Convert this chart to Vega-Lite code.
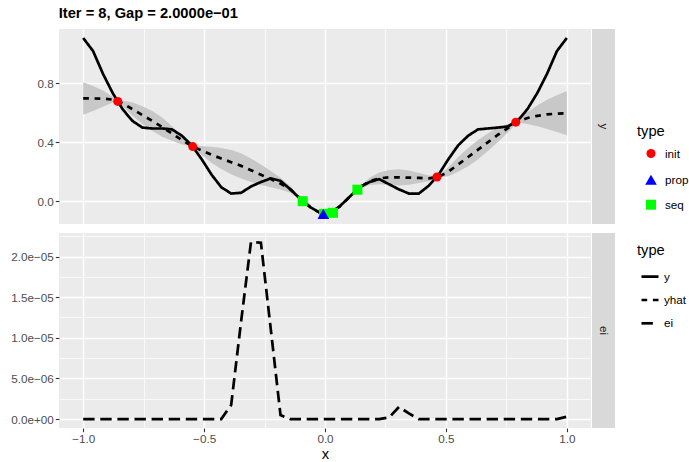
{
  "$schema": "https://vega.github.io/schema/vega-lite/v6.json",
  "background": "white",
  "padding": {"left": 10, "top": 6, "right": 5, "bottom": 2},
  "title": {"text": "Iter = 8, Gap = 2.0000e−01", "anchor": "start", "fontSize": 14.7, "fontWeight": "bold", "font": "Liberation Sans", "color": "#000000", "offset": 8, "dx": 48},
  "datasets": {
    "curve": [
      {"x": -1.000, "y": 1.109, "yhat": 0.698, "lo": 0.588, "hi": 0.808},
      {"x": -0.959, "y": 1.020, "yhat": 0.698, "lo": 0.613, "hi": 0.783},
      {"x": -0.918, "y": 0.865, "yhat": 0.697, "lo": 0.642, "hi": 0.752},
      {"x": -0.878, "y": 0.735, "yhat": 0.690, "lo": 0.670, "hi": 0.710},
      {"x": -0.837, "y": 0.625, "yhat": 0.665, "lo": 0.645, "hi": 0.685},
      {"x": -0.796, "y": 0.545, "yhat": 0.625, "lo": 0.580, "hi": 0.670},
      {"x": -0.755, "y": 0.500, "yhat": 0.585, "lo": 0.525, "hi": 0.645},
      {"x": -0.714, "y": 0.494, "yhat": 0.545, "lo": 0.477, "hi": 0.613},
      {"x": -0.673, "y": 0.494, "yhat": 0.503, "lo": 0.438, "hi": 0.568},
      {"x": -0.633, "y": 0.488, "yhat": 0.460, "lo": 0.410, "hi": 0.510},
      {"x": -0.592, "y": 0.445, "yhat": 0.415, "lo": 0.385, "hi": 0.445},
      {"x": -0.551, "y": 0.380, "yhat": 0.375, "lo": 0.372, "hi": 0.378},
      {"x": -0.510, "y": 0.285, "yhat": 0.345, "lo": 0.315, "hi": 0.375},
      {"x": -0.469, "y": 0.180, "yhat": 0.315, "lo": 0.260, "hi": 0.370},
      {"x": -0.429, "y": 0.095, "yhat": 0.290, "lo": 0.218, "hi": 0.362},
      {"x": -0.388, "y": 0.052, "yhat": 0.265, "lo": 0.183, "hi": 0.347},
      {"x": -0.347, "y": 0.057, "yhat": 0.240, "lo": 0.155, "hi": 0.325},
      {"x": -0.306, "y": 0.100, "yhat": 0.210, "lo": 0.130, "hi": 0.290},
      {"x": -0.265, "y": 0.130, "yhat": 0.180, "lo": 0.110, "hi": 0.250},
      {"x": -0.224, "y": 0.155, "yhat": 0.150, "lo": 0.095, "hi": 0.205},
      {"x": -0.184, "y": 0.138, "yhat": 0.120, "lo": 0.080, "hi": 0.160},
      {"x": -0.143, "y": 0.080, "yhat": 0.080, "lo": 0.058, "hi": 0.102},
      {"x": -0.102, "y": 0.015, "yhat": 0.018, "lo": 0.013, "hi": 0.023},
      {"x": -0.061, "y": -0.040, "yhat": -0.040, "lo": -0.046, "hi": -0.034},
      {"x": -0.020, "y": -0.080, "yhat": -0.080, "lo": -0.082, "hi": -0.078},
      {"x": 0.020, "y": -0.083, "yhat": -0.083, "lo": -0.085, "hi": -0.081},
      {"x": 0.061, "y": -0.035, "yhat": -0.035, "lo": -0.041, "hi": -0.029},
      {"x": 0.102, "y": 0.030, "yhat": 0.030, "lo": 0.020, "hi": 0.040},
      {"x": 0.143, "y": 0.095, "yhat": 0.092, "lo": 0.087, "hi": 0.097},
      {"x": 0.184, "y": 0.130, "yhat": 0.135, "lo": 0.110, "hi": 0.160},
      {"x": 0.224, "y": 0.150, "yhat": 0.155, "lo": 0.115, "hi": 0.195},
      {"x": 0.265, "y": 0.115, "yhat": 0.162, "lo": 0.112, "hi": 0.212},
      {"x": 0.306, "y": 0.080, "yhat": 0.162, "lo": 0.107, "hi": 0.217},
      {"x": 0.347, "y": 0.052, "yhat": 0.160, "lo": 0.112, "hi": 0.208},
      {"x": 0.388, "y": 0.052, "yhat": 0.158, "lo": 0.123, "hi": 0.193},
      {"x": 0.429, "y": 0.105, "yhat": 0.155, "lo": 0.135, "hi": 0.175},
      {"x": 0.469, "y": 0.178, "yhat": 0.165, "lo": 0.161, "hi": 0.169},
      {"x": 0.510, "y": 0.285, "yhat": 0.200, "lo": 0.170, "hi": 0.230},
      {"x": 0.551, "y": 0.380, "yhat": 0.250, "lo": 0.200, "hi": 0.300},
      {"x": 0.592, "y": 0.445, "yhat": 0.300, "lo": 0.238, "hi": 0.362},
      {"x": 0.633, "y": 0.488, "yhat": 0.350, "lo": 0.285, "hi": 0.415},
      {"x": 0.673, "y": 0.494, "yhat": 0.400, "lo": 0.340, "hi": 0.460},
      {"x": 0.714, "y": 0.500, "yhat": 0.450, "lo": 0.400, "hi": 0.500},
      {"x": 0.755, "y": 0.507, "yhat": 0.495, "lo": 0.465, "hi": 0.525},
      {"x": 0.796, "y": 0.545, "yhat": 0.540, "lo": 0.535, "hi": 0.545},
      {"x": 0.837, "y": 0.625, "yhat": 0.565, "lo": 0.525, "hi": 0.605},
      {"x": 0.878, "y": 0.735, "yhat": 0.580, "lo": 0.510, "hi": 0.650},
      {"x": 0.918, "y": 0.865, "yhat": 0.590, "lo": 0.490, "hi": 0.690},
      {"x": 0.959, "y": 1.020, "yhat": 0.595, "lo": 0.470, "hi": 0.720},
      {"x": 1.000, "y": 1.109, "yhat": 0.598, "lo": 0.448, "hi": 0.748}
    ],
    "pts": [
      {"x": -0.857, "y": 0.678, "type": "init"},
      {"x": -0.547, "y": 0.371, "type": "init"},
      {"x": 0.463, "y": 0.164, "type": "init"},
      {"x": 0.789, "y": 0.537, "type": "init"},
      {"x": -0.092, "y": 0.0, "type": "seq"},
      {"x": -0.004, "y": -0.086, "type": "seq"},
      {"x": 0.033, "y": -0.079, "type": "seq"},
      {"x": 0.134, "y": 0.078, "type": "seq"},
      {"x": -0.007, "y": -0.086, "type": "prop"}
    ],
    "eic": [
      {"x": -1.000, "ei": 0}, {"x": -0.959, "ei": 0}, {"x": -0.918, "ei": 0}, {"x": -0.878, "ei": 0},
      {"x": -0.837, "ei": 0}, {"x": -0.796, "ei": 0}, {"x": -0.755, "ei": 0}, {"x": -0.714, "ei": 0},
      {"x": -0.673, "ei": 0}, {"x": -0.633, "ei": 0}, {"x": -0.592, "ei": 0}, {"x": -0.551, "ei": 0},
      {"x": -0.510, "ei": 0}, {"x": -0.469, "ei": 0}, {"x": -0.429, "ei": 0},
      {"x": -0.388, "ei": 1.75e-6}, {"x": -0.347, "ei": 1.2e-5}, {"x": -0.306, "ei": 2.18e-5},
      {"x": -0.265, "ei": 2.17e-5}, {"x": -0.224, "ei": 1.1e-5}, {"x": -0.184, "ei": 5e-7},
      {"x": -0.143, "ei": 0}, {"x": -0.102, "ei": 0}, {"x": -0.061, "ei": 0}, {"x": -0.020, "ei": 0},
      {"x": 0.020, "ei": 0}, {"x": 0.061, "ei": 0}, {"x": 0.102, "ei": 0}, {"x": 0.143, "ei": 0},
      {"x": 0.184, "ei": 0}, {"x": 0.224, "ei": 0}, {"x": 0.265, "ei": 2e-7}, {"x": 0.306, "ei": 1.5e-6},
      {"x": 0.347, "ei": 7e-7}, {"x": 0.388, "ei": 0}, {"x": 0.429, "ei": 0}, {"x": 0.469, "ei": 0},
      {"x": 0.510, "ei": 0}, {"x": 0.551, "ei": 0}, {"x": 0.592, "ei": 0}, {"x": 0.633, "ei": 0},
      {"x": 0.673, "ei": 0}, {"x": 0.714, "ei": 0}, {"x": 0.755, "ei": 0}, {"x": 0.796, "ei": 0},
      {"x": 0.837, "ei": 0}, {"x": 0.878, "ei": 0}, {"x": 0.918, "ei": 0}, {"x": 0.959, "ei": 0},
      {"x": 1.000, "ei": 3e-7}
    ]
  },
  "columns": 2,
  "align": "each",
  "spacing": {"row": 7, "column": 1},
  "resolve": {
    "scale": {"x": "independent", "y": "independent", "strokeDash": "shared", "color": "shared", "shape": "shared", "size": "shared"},
    "legend": {"strokeDash": "shared", "color": "shared", "shape": "shared", "size": "shared"}
  },
  "concat": [
    {
      "width": 532,
      "height": 195,
      "layer": [
        {
          "data": {"name": "curve"},
          "mark": {"type": "area", "color": "#C8C8C8", "opacity": 1},
          "encoding": {
            "x": {"field": "x", "type": "quantitative", "scale": {"domain": [-1.1, 1.1], "nice": false, "zero": false},
              "axis": {"title": null, "labels": false, "ticks": false, "domain": false, "grid": true,
                "values": [-1, -0.75, -0.5, -0.25, 0, 0.25, 0.5, 0.75, 1],
                "gridWidth": {"condition": {"test": "abs(datum.value*2 - round(datum.value*2)) < 0.001", "value": 1.4}, "value": 0.7}}},
            "y": {"field": "lo", "type": "quantitative", "scale": {"domain": [-0.155, 1.17], "nice": false, "zero": false},
              "axis": {"title": null, "grid": true, "values": [0, 0.2, 0.4, 0.6, 0.8, 1.0],
                "labelExpr": "abs(datum.value/0.4 - round(datum.value/0.4)) < 0.001 ? format(datum.value, '.1f') : ''",
                "tickOpacity": {"condition": {"test": "abs(datum.value/0.4 - round(datum.value/0.4)) < 0.001", "value": 1}, "value": 0},
                "gridWidth": {"condition": {"test": "abs(datum.value/0.4 - round(datum.value/0.4)) < 0.001", "value": 1.4}, "value": 0.7}}},
            "y2": {"field": "hi"}
          }
        },
        {
          "data": {"name": "curve"},
          "transform": [{"fold": ["y", "yhat"], "as": ["type", "value"]}],
          "mark": {"type": "line", "color": "#000000", "strokeWidth": 2.7},
          "encoding": {
            "x": {"field": "x", "type": "quantitative"},
            "y": {"field": "value", "type": "quantitative"},
            "strokeDash": {"field": "type", "type": "nominal",
              "scale": {"domain": ["y", "yhat", "ei"], "range": [[1, 0], [5.7, 5.7], [11.4, 5.7]]},
              "legend": {"title": "type", "orient": "none", "legendX": 578, "legendY": 214, "symbolSize": 290, "symbolStrokeWidth": 2.7, "symbolStrokeColor": "#000000", "symbolType": "stroke", "rowPadding": 6.3, "titlePadding": 9, "symbolOffset": 3, "labelOffset": 4}}
          }
        },
        {
          "data": {"name": "pts"},
          "mark": {"type": "point", "filled": true, "opacity": 1, "strokeWidth": 0},
          "encoding": {
            "x": {"field": "x", "type": "quantitative"},
            "y": {"field": "y", "type": "quantitative"},
            "color": {"field": "type", "type": "nominal", "scale": {"domain": ["init", "prop", "seq"], "range": ["#FF0000", "#0000FF", "#00FF00"]},
              "legend": {"title": "type", "orient": "none", "legendX": 578, "legendY": 95, "rowPadding": 12, "titlePadding": 9, "symbolOffset": 7, "labelOffset": 7}},
            "shape": {"field": "type", "type": "nominal", "scale": {"domain": ["init", "prop", "seq"], "range": ["circle", "triangle-up", "square"]},
              "legend": {"title": "type", "orient": "none", "legendX": 578, "legendY": 95, "rowPadding": 12, "titlePadding": 9, "symbolOffset": 7, "labelOffset": 7}},
            "size": {"field": "type", "type": "nominal", "scale": {"type": "ordinal", "domain": ["init", "prop", "seq"], "range": [82, 135, 100]},
              "legend": {"title": "type", "orient": "none", "legendX": 578, "legendY": 95, "rowPadding": 12, "titlePadding": 9, "symbolOffset": 7, "labelOffset": 7}}
          }
        }
      ]
    },
    {
      "width": 23,
      "height": 195,
      "view": {"fill": "#D9D9D9", "stroke": null},
      "data": {"values": [{"panel": "y"}]},
      "mark": {"type": "text", "angle": 90, "font": "Liberation Sans", "fontSize": 11.7, "color": "#1A1A1A"},
      "encoding": {"text": {"field": "panel", "type": "nominal"}}
    },
    {
      "width": 532,
      "height": 195,
      "data": {"name": "eic"},
      "transform": [{"fold": ["ei"], "as": ["type", "value"]}],
      "mark": {"type": "line", "color": "#000000", "strokeWidth": 2.7},
      "encoding": {
        "x": {"field": "x", "type": "quantitative", "scale": {"domain": [-1.1, 1.1], "nice": false, "zero": false},
          "axis": {"title": "x", "grid": true, "labelFlush": false, "labelOverlap": false, "titlePadding": 1,
            "values": [-1, -0.75, -0.5, -0.25, 0, 0.25, 0.5, 0.75, 1],
            "labelExpr": "abs(datum.value*2 - round(datum.value*2)) < 0.001 ? format(datum.value, '.1f') : ''",
            "tickOpacity": {"condition": {"test": "abs(datum.value*2 - round(datum.value*2)) < 0.001", "value": 1}, "value": 0},
            "gridWidth": {"condition": {"test": "abs(datum.value*2 - round(datum.value*2)) < 0.001", "value": 1.4}, "value": 0.7}}},
        "y": {"field": "value", "type": "quantitative", "scale": {"domain": [-1.09e-6, 2.289e-5], "nice": false, "zero": false},
          "axis": {"title": null, "grid": true, "labelOverlap": false,
            "values": [0, 2.5e-6, 5e-6, 7.5e-6, 1e-5, 1.25e-5, 1.5e-5, 1.75e-5, 2e-5, 2.25e-5],
            "labelExpr": "abs(datum.value/5e-6 - round(datum.value/5e-6)) < 0.001 ? replace(replace(format(datum.value, '.1e'), 'e-', 'e−0'), 'e+', 'e+0') : ''",
            "tickOpacity": {"condition": {"test": "abs(datum.value/5e-6 - round(datum.value/5e-6)) < 0.001", "value": 1}, "value": 0},
            "gridWidth": {"condition": {"test": "abs(datum.value/5e-6 - round(datum.value/5e-6)) < 0.001", "value": 1.4}, "value": 0.7}}},
        "strokeDash": {"field": "type", "type": "nominal", "scale": {"domain": ["y", "yhat", "ei"], "range": [[1, 0], [5.7, 5.7], [11.4, 5.7]]}}
      }
    },
    {
      "width": 23,
      "height": 195,
      "view": {"fill": "#D9D9D9", "stroke": null},
      "data": {"values": [{"panel": "ei"}]},
      "mark": {"type": "text", "angle": 90, "font": "Liberation Sans", "fontSize": 11.7, "color": "#1A1A1A"},
      "encoding": {"text": {"field": "panel", "type": "nominal"}}
    }
  ],
  "config": {
    "font": "Liberation Sans",
    "view": {"fill": "#EBEBEB", "stroke": null},
    "axis": {"labelFont": "Liberation Sans", "labelFontSize": 11.7, "labelColor": "#4D4D4D", "tickColor": "#333333", "tickWidth": 1.1, "tickSize": 3.7, "labelPadding": 2, "domain": false, "gridColor": "#FFFFFF", "gridOpacity": 1, "titleFont": "Liberation Sans", "titleFontSize": 14.7, "titleFontWeight": "normal", "titleColor": "#000000", "titlePadding": 3},
    "legend": {"titleFont": "Liberation Sans", "titleFontSize": 14.7, "titleFontWeight": "normal", "titleColor": "#000000", "labelFont": "Liberation Sans", "labelFontSize": 11.7, "labelColor": "#000000", "padding": 0}
  }
}
